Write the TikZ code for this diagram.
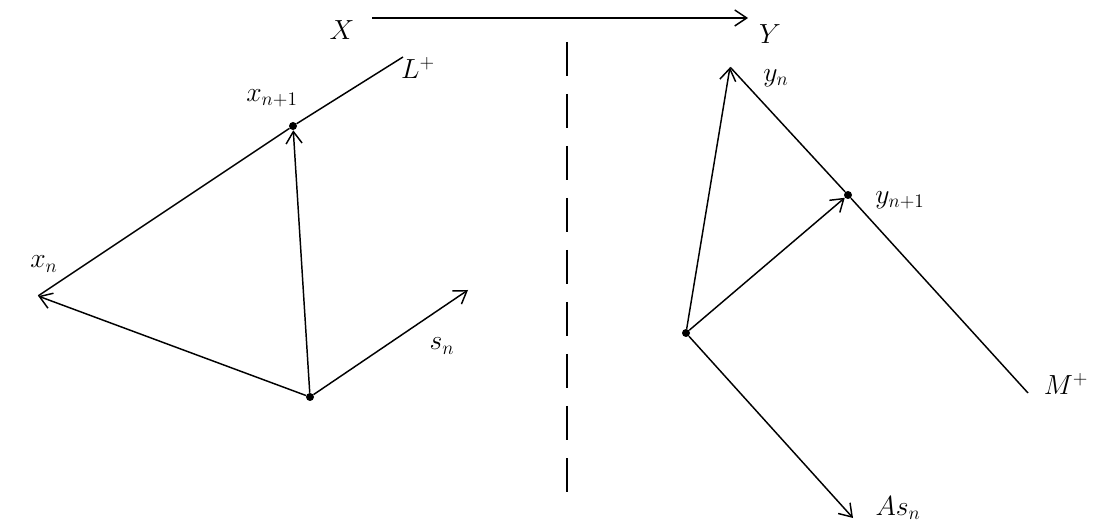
\documentclass[tikz,border=0pt]{standalone}
\usetikzlibrary{arrows.meta}
\begin{document}
\begin{tikzpicture}[x=0.75pt,y=-0.75pt,
  line/.style={line width=1.1pt},
  vec/.style={line width=1.1pt,-{Straight Barb[length=9pt,width=12pt,line width=1.1pt]}},
  dot/.style={circle,fill=black,inner sep=0pt,minimum size=6pt},
  pt/.style={inner sep=0pt,minimum size=0pt},
  lab/.style={font=\fontsize{22}{26}\selectfont}]
\useasboundingbox (0,0) rectangle (1102,523);
% top map
\node[lab] (X) at (342,30) {$X$};
\node[lab] (Y) at (770,34) {$Y$};
\draw[vec] (372,18) -- (748,18);
% dashed divider
\coordinate (d1) at (567,42);
\coordinate (d2) at (567,493);
\draw[line width=1.6pt,dash pattern=on 25.5pt off 13.5pt] (d1) -- (d2);
% left
\node[dot] (o1) at (310,397) {};
\node[pt] (xn) at (38,296) {};
\node[dot] (xn1) at (293,126) {};
\coordinate (Lend) at (403,57);
\coordinate (sn) at (468,290);
\draw[line] (xn) -- (xn1) -- (Lend);
\draw[vec] (o1) -- (xn);
\draw[vec] (o1) -- (xn1);
\draw[vec] (o1) -- (sn);
\node[lab] (Lp) at (418,68) {$L^{+}$};
\node[lab] (lxn1) at (272,98) {$x_{n+1}$};
\node[lab] (lxn) at (44,264) {$x_{n}$};
\node[lab] (lsn) at (442,346) {$s_{n}$};
% right
\node[dot] (o2) at (686,333) {};
\node[pt] (yn) at (730,67) {};
\node[dot] (yn1) at (848,195) {};
\coordinate (Mend) at (1028,393);
\coordinate (Asn) at (853,518);
\draw[line] (yn) -- (yn1) -- (Mend);
\draw[vec] (o2) -- (yn);
\draw[vec] (o2) -- (yn1);
\draw[vec] (o2) -- (Asn);
\node[lab] (lyn) at (776,78) {$y_{n}$};
\node[lab] (lyn1) at (900,200) {$y_{n+1}$};
\node[lab] (lMp) at (1066,384) {$M^{+}$};
\node[lab] (lAsn) at (898,508) {$As_{n}$};
\end{tikzpicture}
\end{document}
